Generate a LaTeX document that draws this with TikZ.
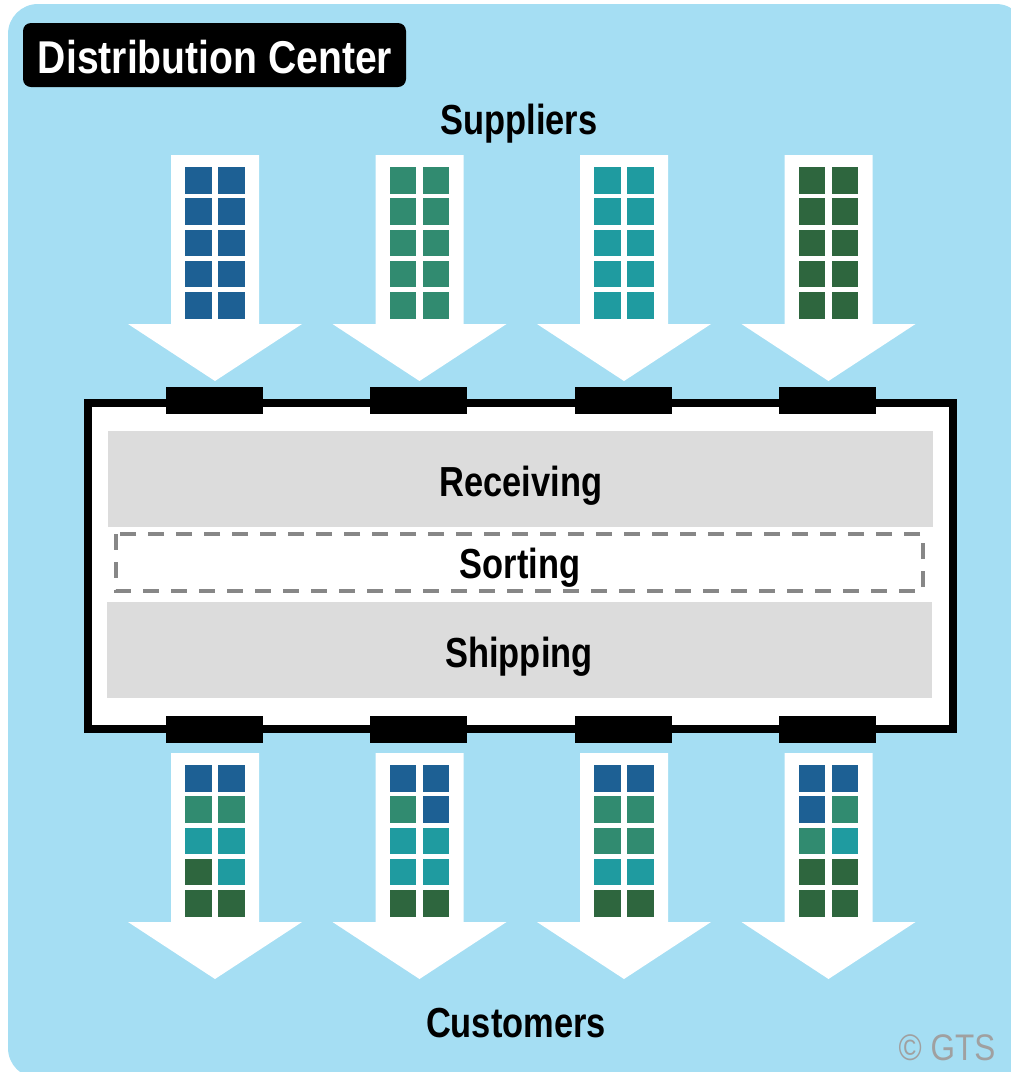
\documentclass[tikz,border=0pt]{standalone}
\usepackage{fontspec}
\usepackage{graphicx}
\setmainfont{Liberation Sans}
\definecolor{bgblue}{HTML}{A5DEF3}
\definecolor{cblue}{HTML}{1D6094}
\definecolor{cgreen}{HTML}{318B70}
\definecolor{cteal}{HTML}{1F9BA0}
\definecolor{cdark}{HTML}{2E663E}
\definecolor{bandgray}{HTML}{DCDCDC}
\definecolor{dashgray}{HTML}{878787}
\definecolor{copygray}{HTML}{A0A0A0}
\newcommand\darrow[2]{%
  \fill[white] (#1-44,#2) -- (#1+44,#2) -- (#1+44,#2+169) -- (#1+87,#2+169)
    -- (#1,#2+226) -- (#1-87,#2+169) -- (#1-44,#2+169) -- cycle;}
\newcommand\crates[3]{%
  \foreach \c [count=\i from 0] in {#3} {
    \pgfmathtruncatemacro\rr{\i/2}
    \pgfmathtruncatemacro\kk{mod(\i,2)}
    \fill[\c] ({#1-30+33*\kk},{#2+12+31.3*\rr}) rectangle +(26.5,26.5);
  }}
\newcommand\dock[2]{\fill[black] (#1-48.5,#2) rectangle (#1+48.5,#2+27);}
\tikzset{
  lbl/.style={anchor=base, inner sep=0pt, font=\bfseries\fontsize{31.5}{36}\selectfont},
}
\begin{document}
\begin{tikzpicture}[x=0.75pt,y=-0.75pt]
\useasboundingbox (0,0) rectangle (1011,1072);
\begin{scope}
  \clip (0,0) rectangle (1011,1072);
  \fill[bgblue, rounded corners=22.5pt] (8,4) rectangle (1026,1078);
\end{scope}
% title
\fill[black, rounded corners=6pt] (23,23) rectangle (406,87);
\node[anchor=base, inner sep=0pt, text=white, font=\bfseries\fontsize{34.5}{40}\selectfont] (title) at (215,73) {\scalebox{0.85}[1]{Distribution Center}};
% supplier arrows
\darrow{215}{155}
\darrow{419.5}{155}
\darrow{624}{155}
\darrow{828.5}{155}
\crates{215}{155}{cblue,cblue,cblue,cblue,cblue,cblue,cblue,cblue,cblue,cblue}
\crates{419.5}{155}{cgreen,cgreen,cgreen,cgreen,cgreen,cgreen,cgreen,cgreen,cgreen,cgreen}
\crates{624}{155}{cteal,cteal,cteal,cteal,cteal,cteal,cteal,cteal,cteal,cteal}
\crates{828.5}{155}{cdark,cdark,cdark,cdark,cdark,cdark,cdark,cdark,cdark,cdark}
% building
\draw[line width=6pt, fill=white] (88,403) rectangle (952.5,729);
\fill[bandgray] (108,431) rectangle (933,527);
\fill[bandgray] (107,602) rectangle (932,698);
\draw[dashgray, line width=3pt, dash pattern=on 12pt off 9pt] (116,534) rectangle (923,591);
\foreach \x in {214,418.5,623,827.5} {\dock{\x}{387}\dock{\x}{716}}
\node[lbl] (recv) at (521,496) {\scalebox{0.82}[1]{Receiving}};
\node[lbl] (sort) at (520,578) {\scalebox{0.82}[1]{Sorting}};
\node[lbl] (ship) at (519,667) {\scalebox{0.82}[1]{Shipping}};
% customer arrows
\darrow{215}{753}
\darrow{419.5}{753}
\darrow{624}{753}
\darrow{828.5}{753}
\crates{215}{753}{cblue,cblue,cgreen,cgreen,cteal,cteal,cdark,cteal,cdark,cdark}
\crates{419.5}{753}{cblue,cblue,cgreen,cblue,cteal,cteal,cteal,cteal,cdark,cdark}
\crates{624}{753}{cblue,cblue,cgreen,cgreen,cgreen,cgreen,cteal,cteal,cdark,cdark}
\crates{828.5}{753}{cblue,cblue,cblue,cgreen,cgreen,cteal,cdark,cdark,cdark,cdark}
% labels
\node[lbl] (supp) at (519,134) {\scalebox{0.82}[1]{Suppliers}};
\node[lbl] (cust) at (516,1037) {\scalebox{0.82}[1]{Customers}};
\node[anchor=base, inner sep=0pt, text=copygray, font=\fontsize{27.75}{32}\selectfont] (copy) at (947,1060) {\scalebox{0.85}[1]{© GTS}};
\end{tikzpicture}
\end{document}
